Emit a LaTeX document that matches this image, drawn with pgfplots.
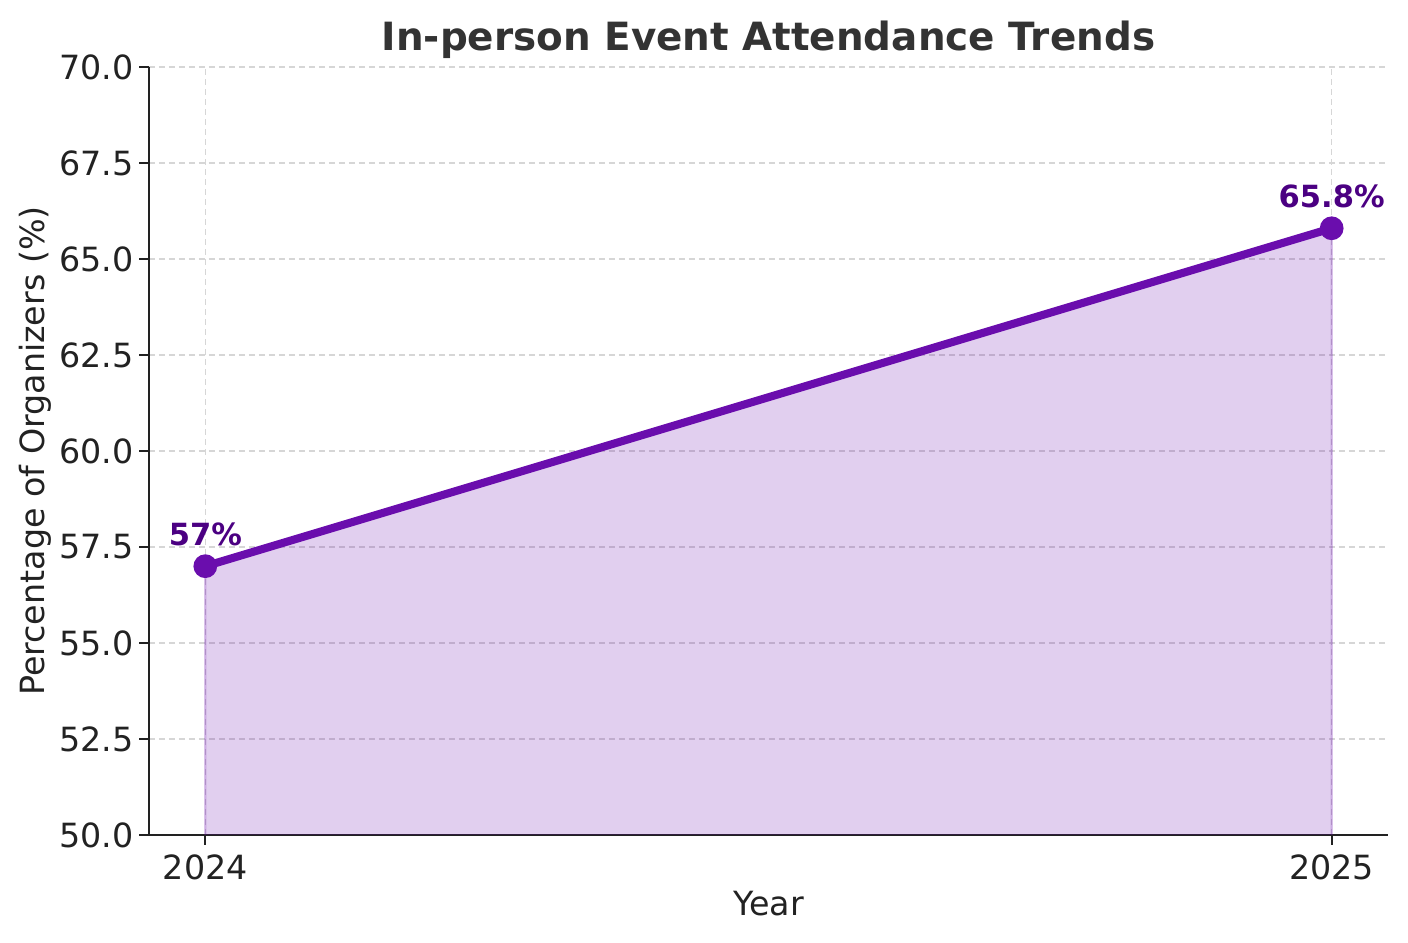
\documentclass[border=0pt]{standalone}
\usepackage{fontspec}
\setmainfont{DejaVu Sans}
\usepackage{pgfplots}
\pgfplotsset{compat=1.18}
\definecolor{linec}{HTML}{6A0DAD}
\definecolor{labc}{HTML}{4B0082}
\definecolor{txt}{HTML}{222222}
\definecolor{ttl}{HTML}{333333}
\begin{document}
\begin{tikzpicture}
\begin{axis}[
  at={(0,0)}, anchor=south west,
  scale only axis, width=446.04pt, height=276.48pt,
  xmin=2023.95, xmax=2025.05, ymin=50, ymax=70,
  axis x line*=bottom, axis y line*=left,
  axis line style={-, line width=0.9pt, color=txt},
  xtick={2024,2025}, ytick={50,52.5,55,57.5,60,62.5,65,67.5,70},
  grid=major,
  grid style={gray!32, line width=0.5pt, dash pattern=on 2.2pt off 1.4pt},
  tick align=outside, major tick length=3.5pt,
  tick style={color=txt, line width=0.8pt},
  /pgf/number format/assume math mode=true,
  ticklabel style={font=\fontsize{12}{14}\selectfont, text=txt},
  xticklabel style={/pgf/number format/1000 sep={}},
  yticklabel style={xshift=1.5pt, /pgf/number format/.cd, fixed, fixed zerofill, precision=1},
  clip=false,
]
\addplot[draw=none, fill=linec, fill opacity=0.2]
  coordinates {(2024,50) (2024,57) (2025,65.8) (2025,50)} -- cycle;
\addplot[draw=linec, draw opacity=0.25, line width=0.8pt]
  coordinates {(2024,50) (2024,57) (2025,65.8) (2025,50)};
\addplot[linec, line width=2.9pt, mark=*, mark size=2.8pt, mark options={solid, fill=linec, draw=none}]
  coordinates {(2024,57) (2025,65.8)};
\node[font=\bfseries\fontsize{11}{13}\selectfont, text=labc, anchor=base] at (axis cs:2024,57) [yshift=7.3pt] {57\%};
\node[font=\bfseries\fontsize{11}{13}\selectfont, text=labc, anchor=base] at (axis cs:2025,65.8) [yshift=7.3pt] {65.8\%};
\end{axis}
\node[font=\bfseries\fontsize{14}{17}\selectfont, text=ttl] at (223.02pt,286.2pt) {In-person Event Attendance Trends};
\node[font=\fontsize{12}{14}\selectfont, text=txt] at (223.02pt,-24.7pt) {Year};
\node[font=\fontsize{12}{14}\selectfont, text=txt, rotate=90] at (-41pt,138.24pt) {Percentage of Organizers (\%)};
\pgfresetboundingbox
\path (-53.64pt,-38.88pt) rectangle (453.24pt,300.6pt);
\end{tikzpicture}
\end{document}
